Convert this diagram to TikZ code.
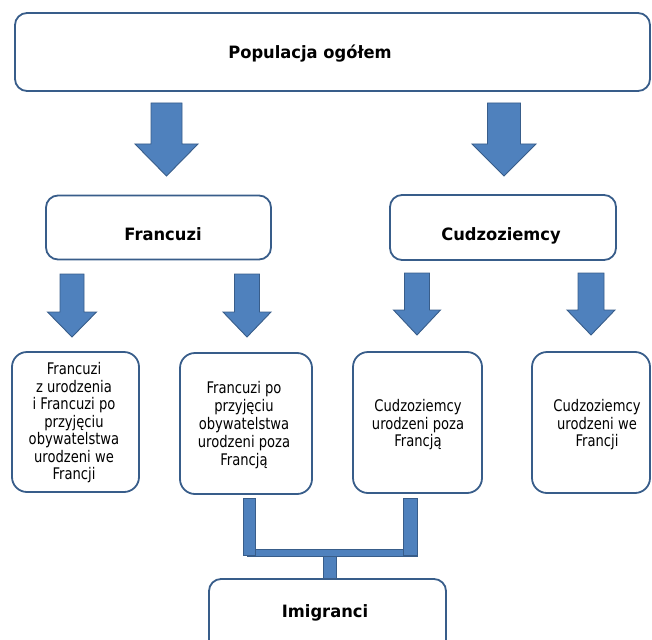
\documentclass[tikz,border=0pt]{standalone}
\usepackage{fontspec}
\setmainfont{DejaVu Sans}
\newfontfamily\narrowfont[FakeStretch=0.82]{DejaVu Sans}
\newfontfamily\headfont[FakeStretch=0.96]{DejaVu Sans}
\definecolor{boxline}{RGB}{56,93,138}
\definecolor{arrowfill}{RGB}{79,129,189}
\definecolor{arrowline}{RGB}{56,93,138}
\newcommand\blockdown[6]{%
  \draw[blockarrow] (#1-#5,#2) -- (#1+#5,#2) -- (#1+#5,#3) -- (#1+#6,#3) -- (#1,#4) -- (#1-#6,#3) -- (#1-#5,#3) -- cycle;}
\begin{document}
\begin{tikzpicture}[x=1pt,y=-1pt,
  bigbox/.style={draw=boxline,line width=1.8pt,rounded corners=12pt,fill=white,inner sep=0pt},
  smallbox/.style={draw=boxline,line width=1.8pt,rounded corners=15pt,fill=white,inner sep=0pt},
  blockarrow/.style={fill=arrowfill,draw=arrowline,line width=0.9pt,line join=miter},
  txt/.style={align=center,font=\narrowfont\fontsize{16}{17.5}\selectfont,inner sep=0pt},
  txtsmall/.style={align=center,font=\narrowfont\fontsize{16}{18}\selectfont,inner sep=0pt},
  headtxt/.style={font=\headfont\bfseries\fontsize{17}{20}\selectfont,inner sep=0pt,anchor=base}]
\useasboundingbox (0,0) rectangle (652,639);
\clip (0,0) rectangle (652,639);
% boxes
\node[bigbox,minimum width=635pt,minimum height=78pt] (pop) at (332.5,52) {};
\node[headtxt] (popt) at (310,59) {Populacja ogółem};
\node[bigbox,minimum width=225pt,minimum height=64pt] (fr) at (158.5,227.5) {};
\node[headtxt] (frt) at (163,240) {Francuzi};
\node[bigbox,minimum width=226pt,minimum height=65pt] (cu) at (503,227.5) {};
\node[headtxt] (cut) at (501,240) {Cudzoziemcy};
\node[smallbox,minimum width=127pt,minimum height=140pt] (b1) at (75.5,422) {};
\node[txt] (b1t) at (74,423) {Francuzi\\z urodzenia\\i Francuzi po\\przyjęciu\\obywatelstwa\\urodzeni we\\Francji};
\node[smallbox,minimum width=132pt,minimum height=141pt] (b2) at (246,423.5) {};
\node[txtsmall] (b2t) at (244,425) {Francuzi po\\przyjęciu\\obywatelstwa\\urodzeni poza\\Francją};
\node[smallbox,minimum width=129pt,minimum height=141pt] (b3) at (417.5,422.5) {};
\node[txt] (b3t) at (418,425) {Cudzoziemcy\\urodzeni poza\\Francją};
\node[smallbox,minimum width=118pt,minimum height=141pt] (b4) at (591,422.5) {};
\node[txt] (b4t) at (597,425) {Cudzoziemcy\\urodzeni we\\Francji};
\node[bigbox,minimum width=237pt,minimum height=81pt] (im) at (327.5,619.5) {};
\node[headtxt] (imt) at (325,617) {Imigranci};
% block arrows
\blockdown{166.5}{103}{144}{176}{15.5}{31.5}
\blockdown{504}{103}{144}{176}{16.5}{32}
\blockdown{72}{274}{312}{337}{12}{24.5}
\blockdown{247}{274}{312}{337}{12.5}{24}
\blockdown{417}{273}{310}{335}{12.5}{23.5}
\blockdown{591}{273}{310}{335}{13}{24}
% bracket bars
\draw[blockarrow] (247,549) rectangle (417,556);
\draw[blockarrow] (243,498) rectangle (255,555);
\draw[blockarrow] (403,498) rectangle (417,555);
\draw[blockarrow] (323,556) rectangle (336,578);
\end{tikzpicture}
\end{document}
